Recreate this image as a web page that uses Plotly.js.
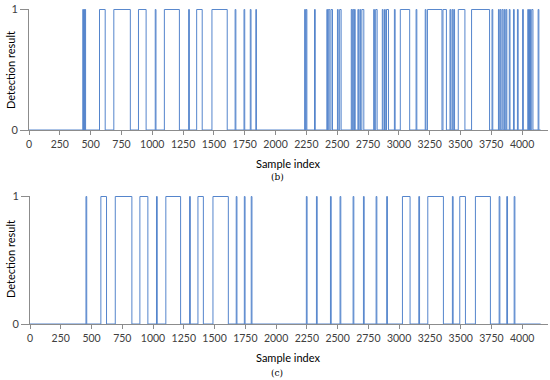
<!DOCTYPE html>
<html>
<head>
<meta charset="utf-8">
<script src="https://cdn.plot.ly/plotly-3.0.1.min.js"></script>
<style>html,body{margin:0;padding:0;background:#fff;}#chart{width:550px;height:380px;}</style>
</head>
<body>
<div id="chart"></div>
<script>
// (b) detection result: pulse start / end sample indices
const bStart = [436, 447, 454, 572, 688, 888, 1024, 1098, 1295, 1360, 1484, 1672, 1744, 1795, 1840,
  2236, 2248, 2316, 2416, 2428, 2450, 2502, 2520, 2614, 2626, 2640, 2668, 2684, 2700, 2796, 2812,
  2866, 2884, 2900, 2964, 3012, 3140, 3214, 3232, 3358, 3415, 3432, 3446, 3482, 3590, 3756,
  3808, 3822, 3838, 3856, 3870, 3896, 3930, 3962, 4004, 4046, 4060, 4078, 4130];
const bEnd = [442, 451, 459, 618, 822, 950, 1030, 1220, 1301, 1405, 1608, 1678, 1750, 1801, 1845,
  2242, 2254, 2322, 2422, 2440, 2462, 2508, 2532, 2620, 2634, 2646, 2674, 2690, 2716, 2802, 2824,
  2872, 2890, 2916, 2970, 3088, 3146, 3220, 3350, 3386, 3421, 3438, 3452, 3536, 3736, 3762,
  3814, 3828, 3846, 3862, 3876, 3902, 3936, 3968, 4010, 4052, 4068, 4088, 4136];
// (c) detection result
const cStart = [455, 576, 693, 893, 1028, 1104, 1297, 1365, 1487, 1676, 1742, 1798,
  2246, 2328, 2442, 2520, 2626, 2710, 2813, 2899, 3027, 3160, 3233, 3433, 3493, 3620, 3813, 3875, 3935];
const cEnd = [461, 622, 828, 958, 1034, 1224, 1303, 1409, 1612, 1682, 1748, 1804,
  2252, 2334, 2448, 2526, 2632, 2716, 2819, 2905, 3089, 3166, 3360, 3439, 3539, 3742, 3819, 3881, 3941];
const signalLength = 4150;
const xTicks = [0,250,500,750,1000,1250,1500,1750,2000,2250,2500,2750,3000,3250,3500,3750,4000];
const yTicks = [0, 1];

function stepTrace(starts, ends, xa, ya) {
  const x = [0], y = [0];
  for (let i = 0; i < starts.length; i++) {
    x.push(starts[i], starts[i], ends[i], ends[i]);
    y.push(0, 1, 1, 0);
  }
  x.push(signalLength); y.push(0);
  return {x, y, xaxis: xa, yaxis: ya, type: 'scatter', mode: 'lines',
    line: {color: '#5585cc', width: 1}, hoverinfo: 'skip', showlegend: false};
}

const fam = 'Lato, "Open Sans", sans-serif';
const tickFont = {family: fam, size: 10.5, color: '#404040'};
const W = 550, H = 380;
function xaxis(domain, anchor) {
  return {domain, anchor, range: [0, 4210], tickvals: xTicks, ticktext: xTicks.map(String),
    ticks: 'outside', ticklen: 4, tickcolor: '#8c8c8c', showline: true, linecolor: '#8c8c8c',
    linewidth: 1, showgrid: false, zeroline: false, tickfont: tickFont, fixedrange: true};
}
function yaxis(domain, anchor) {
  return {domain, anchor, range: [0, 1.004], tickvals: yTicks, ticktext: yTicks.map(String),
    ticks: 'outside', ticklen: 8, tickcolor: '#8c8c8c', showline: true, linecolor: '#8c8c8c',
    linewidth: 1, showgrid: false, zeroline: false, tickfont: {family: fam, size: 11, color: '#404040'}, fixedrange: true};
}
function note(text, x, y, size, family, angle) {
  return {text, xref: 'paper', yref: 'paper', x: x / W, y: 1 - y / H, xanchor: 'center', yanchor: 'middle',
    textangle: angle || 0, showarrow: false, font: {family, size, color: '#000'}};
}

const layout = {
  width: W, height: H, margin: {l: 0, r: 0, t: 0, b: 0},
  paper_bgcolor: '#fff', plot_bgcolor: '#fff', font: tickFont,
  xaxis: xaxis([29 / W, 548 / W], 'y'),
  yaxis: yaxis([1 - 130 / H, 1 - 9 / H], 'x'),
  xaxis2: xaxis([30 / W, 548 / W], 'y2'),
  yaxis2: yaxis([1 - 324 / H, 1 - 196 / H], 'x2'),
  annotations: [
    note('Sample index', 288, 163, 11, fam),
    note('(b)', 277, 177, 9, '"DejaVu Serif", serif'),
    note('Detection result', 10, 70, 11, fam, -90),
    note('Sample index', 288, 357, 11, fam),
    note('(c)', 277, 373, 9, '"DejaVu Serif", serif'),
    note('Detection result', 10, 259, 11, fam, -90)
  ]
};

Plotly.newPlot('chart', [stepTrace(bStart, bEnd, 'x', 'y'), stepTrace(cStart, cEnd, 'x2', 'y2')], layout,
  {staticPlot: true, displayModeBar: false});
</script>
</body>
</html>
